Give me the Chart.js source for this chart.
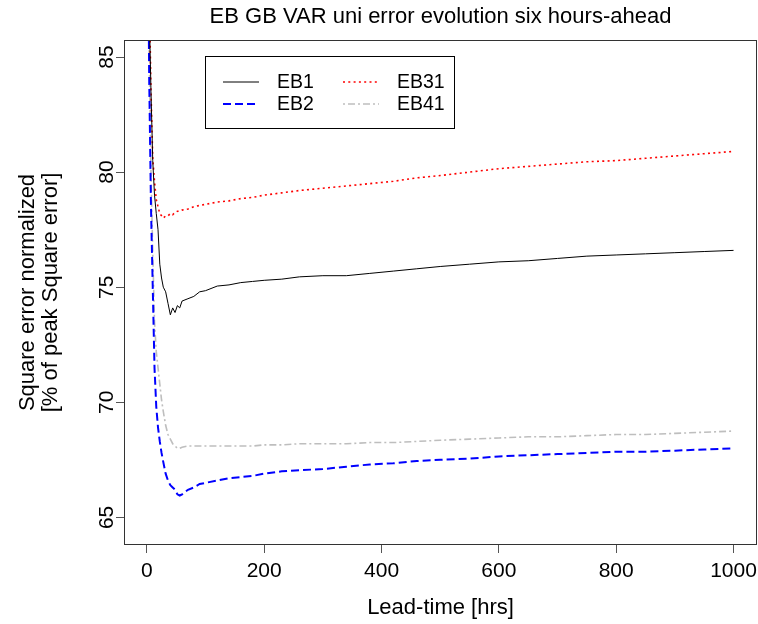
<!DOCTYPE html>
<html>
<head>
<meta charset="utf-8">
<script src="https://cdn.jsdelivr.net/npm/chart.js@4"></script>
<style>
  html, body { margin: 0; padding: 0; background: #fff; }
  #wrap { width: 758px; height: 624px; }
</style>
</head>
<body>
<div id="wrap"><canvas id="errChart" width="758" height="624"></canvas></div>
<script>
const leadTime = [1, 4, 7, 10, 13, 16, 19, 22, 25, 28, 32, 36, 40, 44, 48, 52, 56, 60, 70, 80, 90, 100,
  120, 140, 160, 180, 200, 230, 260, 300, 340, 380, 420, 460, 500, 550, 600, 650, 700, 750, 800, 850, 900, 950, 1000];

const eb1 = [95, 87, 83.5, 80.5, 79.0, 78.2, 77.5, 76.0, 75.4, 75.0, 74.8, 74.3, 73.8, 74.1, 73.9, 74.2, 74.1, 74.4, 74.5, 74.6, 74.8, 74.85,
  75.05, 75.1, 75.2, 75.25, 75.3, 75.35, 75.45, 75.5, 75.5, 75.6, 75.7, 75.8, 75.9, 76.0, 76.1, 76.15, 76.25, 76.35, 76.4, 76.45, 76.5, 76.55, 76.6];

const eb2 = [93, 84, 78.5, 75.0, 71.5, 69.8, 68.9, 68.3, 67.8, 67.4, 66.9, 66.6, 66.4, 66.3, 66.2, 66.0, 65.95, 66.0, 66.2, 66.3, 66.45, 66.5,
  66.6, 66.7, 66.75, 66.8, 66.9, 67.0, 67.05, 67.1, 67.2, 67.3, 67.35, 67.45, 67.5, 67.55, 67.65, 67.7, 67.75, 67.8, 67.85, 67.85, 67.9, 67.95, 68.0];

const eb31 = [97, 88, 83.5, 80.6, 79.6, 78.8, 78.5, 78.2, 78.1, 78.0, 78.1, 78.1, 78.2, 78.15, 78.25, 78.3, 78.3, 78.35, 78.4, 78.5, 78.55, 78.6,
  78.7, 78.75, 78.85, 78.9, 79.0, 79.1, 79.2, 79.3, 79.4, 79.5, 79.6, 79.75, 79.85, 80.0, 80.15, 80.25, 80.35, 80.45, 80.5, 80.6, 80.7, 80.8, 80.9];

const eb41 = [94, 85, 80, 76.5, 73.5, 72.2, 71.5, 70.8, 70.1, 69.6, 69.0, 68.6, 68.4, 68.2, 68.1, 68.0, 68.0, 68.05, 68.1, 68.1, 68.1, 68.1,
  68.1, 68.1, 68.1, 68.1, 68.15, 68.15, 68.2, 68.2, 68.2, 68.25, 68.25, 68.3, 68.35, 68.4, 68.45, 68.5, 68.5, 68.55, 68.6, 68.6, 68.65, 68.7, 68.75];

const xTicks = [0, 200, 400, 600, 800, 1000];
const yTicks = [65, 70, 75, 80, 85];

const FONT = "'Liberation Sans', Arial, sans-serif";

function pts(ys) {
  return leadTime.map((x, i) => ({ x: x, y: ys[i] }));
}

const series = [
  { label: 'EB1', data: eb1, color: '#000000', width: 1, dash: [] },
  { label: 'EB2', data: eb2, color: '#0000ff', width: 2, dash: [8, 4] },
  { label: 'EB31', data: eb31, color: '#ff0000', width: 1.6, dash: [2, 3.3] },
  { label: 'EB41', data: eb41, color: '#bebebe', width: 1.6, dash: [2, 3, 7, 3] }
];

// draws the R-style box, titles, rotated y labels and the legend
const rStyle = {
  id: 'rStyle',
  afterDraw(chart) {
    const ctx = chart.ctx;
    const a = chart.chartArea;
    const ys = chart.scales.y;
    ctx.save();
    ctx.strokeStyle = '#333';
    ctx.lineWidth = 1;
    ctx.strokeRect(a.left + 0.5, a.top + 0.5, a.right - a.left - 1, a.bottom - a.top - 1);

    ctx.fillStyle = '#000';
    ctx.textAlign = 'center';
    ctx.textBaseline = 'middle';
    ctx.font = '22px ' + FONT;
    ctx.fillText('EB GB VAR uni error evolution six hours-ahead', (a.left + a.right) / 2, 17);
    ctx.fillText('Lead-time [hrs]', (a.left + a.right) / 2, 608);

    // y tick labels, rotated like R's default
    ctx.font = '21px ' + FONT;
    yTicks.forEach(v => {
      const py = ys.getPixelForValue(v);
      ctx.save();
      ctx.translate(107, py);
      ctx.rotate(-Math.PI / 2);
      ctx.fillText(String(v), 0, 0);
      ctx.restore();
    });

    // y axis title
    ctx.font = '22px ' + FONT;
    const cy = (a.top + a.bottom) / 2;
    ctx.save();
    ctx.translate(28, cy);
    ctx.rotate(-Math.PI / 2);
    ctx.fillText('Square error normalized', 0, 0);
    ctx.fillText('[% of peak Square error]', 0, 23);
    ctx.restore();

    // legend
    ctx.strokeStyle = '#000';
    ctx.lineWidth = 1;
    ctx.strokeRect(205.5, 56.5, 249, 72);
    ctx.textAlign = 'left';
    ctx.font = '19.5px ' + FONT;
    const cols = [223, 343];
    const rows = [82, 104];
    const order = [0, 2, 1, 3];
    const spots = [[0, 0], [1, 0], [0, 1], [1, 1]];
    order.forEach((si, k) => {
      const s = series[si];
      const cx = cols[spots[k][0]];
      const ry = rows[spots[k][1]];
      ctx.strokeStyle = s.color;
      ctx.lineWidth = s.width;
      ctx.setLineDash(s.dash);
      ctx.beginPath();
      ctx.moveTo(cx, ry);
      ctx.lineTo(cx + 36, ry);
      ctx.stroke();
      ctx.setLineDash([]);
      ctx.fillStyle = '#000';
      ctx.fillText(s.label, cx + 54, ry + 1);
    });
    ctx.restore();
  }
};

new Chart(document.getElementById('errChart'), {
  type: 'line',
  data: {
    datasets: series.map(s => ({
      label: s.label,
      data: pts(s.data),
      borderColor: s.color,
      borderWidth: s.width,
      borderDash: s.dash,
      pointRadius: 0,
      tension: 0,
      fill: false
    }))
  },
  options: {
    responsive: false,
    animation: false,
    layout: { padding: { top: 40, right: 1, left: 0, bottom: 0 } },
    plugins: {
      legend: { display: false },
      title: { display: false },
      tooltip: { enabled: false }
    },
    scales: {
      x: {
        type: 'linear',
        min: -39,
        max: 1040,
        afterBuildTicks: s => { s.ticks = xTicks.map(v => ({ value: v })); },
        afterFit: s => { s.height = 79; s.paddingLeft = 0; s.paddingRight = 0; },
        grid: { drawOnChartArea: false, drawTicks: true, tickLength: 8, color: '#555' },
        border: { display: false },
        ticks: { color: '#000', font: { family: FONT, size: 21 }, padding: 6, maxRotation: 0,
          callback: v => String(v) }
      },
      y: {
        type: 'linear',
        min: 63.8,
        max: 85.74,
        afterBuildTicks: s => { s.ticks = yTicks.map(v => ({ value: v })); },
        afterFit: s => { s.width = 124; s.paddingTop = 0; s.paddingBottom = 0; },
        grid: { drawOnChartArea: false, drawTicks: true, tickLength: 8, color: '#555' },
        border: { display: false },
        ticks: { color: 'rgba(0,0,0,0)', font: { family: FONT, size: 17 } }
      }
    }
  },
  plugins: [rStyle]
});
</script>
</body>
</html>
